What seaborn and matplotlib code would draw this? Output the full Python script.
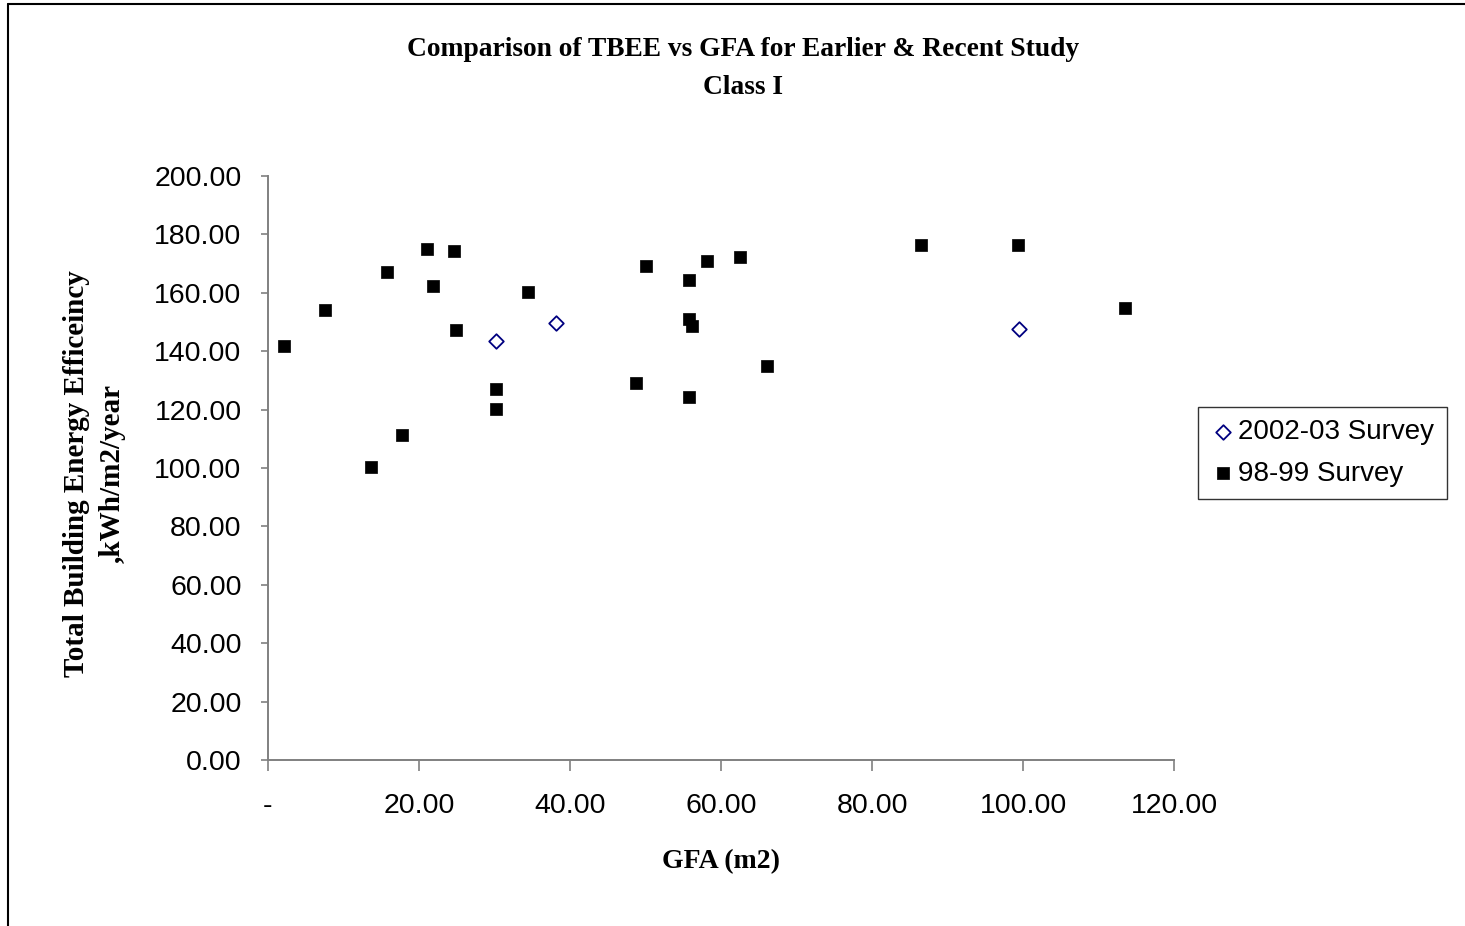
import numpy as np
import pandas as pd
import matplotlib
matplotlib.use("Agg")
import matplotlib.pyplot as plt
import seaborn as sb
from matplotlib.lines import Line2D
from matplotlib.ticker import FuncFormatter

# data
gfa_recent = [30.2, 38.2, 99.5]
tbee_recent = [143.4, 149.7, 147.5]

gfa_old = [2.1, 7.6, 13.6, 15.8, 17.7, 21.0, 21.8, 24.6, 24.9, 30.2, 30.2, 34.5,
           50.0, 48.8, 55.8, 55.8, 56.1, 55.8, 58.2, 62.5, 66.1, 86.5, 99.4, 113.5]
tbee_old = [141.8, 154.1, 100.3, 167.2, 111.3, 174.9, 162.4, 174.2, 147.3, 127.2, 120.2, 160.3,
            169.3, 129.2, 164.5, 150.9, 148.7, 124.4, 170.8, 172.1, 134.9, 176.3, 176.3, 154.8]

labels = ["2002-03 Survey", "98-99 Survey"]
y_ticks = [0, 20, 40, 60, 80, 100, 120, 140, 160, 180, 200]
x_ticks = [0, 20, 40, 60, 80, 100, 120]

recent = pd.DataFrame({"GFA": gfa_recent, "TBEE": tbee_recent})
old = pd.DataFrame({"GFA": gfa_old, "TBEE": tbee_old})

sb.set_style("white")
plt.rcParams["font.family"] = ["Liberation Sans", "DejaVu Sans"]
plt.rcParams["text.color"] = "black"
plt.rcParams["axes.labelcolor"] = "black"
plt.rcParams["xtick.color"] = "black"
plt.rcParams["ytick.color"] = "black"

W, H = 1465, 926
fig = plt.figure(figsize=(W / 100, H / 100), dpi=100)
ax = fig.add_axes([268 / W, (H - 760) / H, 906 / W, 584 / H])

sb.scatterplot(data=recent, x="GFA", y="TBEE", marker="D", s=55, color="#000080",
               linewidth=1.3, label=labels[0], ax=ax, zorder=3)
ax.collections[0].set_facecolor("white")
ax.collections[0].set_edgecolor("#000080")
sb.scatterplot(data=old, x="GFA", y="TBEE", marker="s", s=64, color="black",
               edgecolor="black", linewidth=0.5, label=labels[1], ax=ax, zorder=3)

ax.set_xlim(0, 120)
ax.set_ylim(0, 200)
ax.set_xticks(x_ticks)
ax.set_yticks(y_ticks)
ax.xaxis.set_major_formatter(FuncFormatter(lambda v, p: "-" if v == 0 else f"{v:.2f}"))
ax.yaxis.set_major_formatter(FuncFormatter(lambda v, p: f"{v:.2f}"))
ax.tick_params(axis="y", direction="out", length=5, width=1.2, color="#808080",
               labelsize=20.5, pad=14, left=True, labelcolor="black")
ax.tick_params(axis="x", direction="out", length=8, width=1.2, color="#808080",
               labelsize=20.5, pad=16, bottom=True, labelcolor="black")

for side in ["top", "right"]:
    ax.spines[side].set_visible(False)
for side in ["left", "bottom"]:
    ax.spines[side].set_color("#808080")
    ax.spines[side].set_linewidth(1.4)

serif = ["Liberation Serif", "DejaVu Serif"]
ax.set_xlabel("GFA (m2)", family=serif, weight="bold", fontsize=20)
ax.xaxis.set_label_coords(0.5, -0.152)
ax.set_ylabel("Total Building Energy Efficeincy\n,kWh/m2/year", family=serif,
              weight="bold", fontsize=21, linespacing=1.4)
ax.yaxis.set_label_coords(-0.157, 0.49)

fig.text(743 / W, 1 - 50 / H, "Comparison of TBEE vs GFA for Earlier & Recent Study",
         family=serif, weight="bold", fontsize=19.8, ha="center", va="center")
fig.text(743 / W, 1 - 87 / H, "Class I", family=serif, weight="bold", fontsize=19.8,
         ha="center", va="center")

leg = ax.legend(loc="center left", bbox_to_anchor=(1198 / W, 1 - 453 / H),
                bbox_transform=fig.transFigure, fontsize=20, frameon=True,
                fancybox=False, edgecolor="black", handletextpad=0.1,
                handlelength=0.9, borderpad=0.45, labelspacing=0.55,
                borderaxespad=0, markerscale=1.0)
leg.get_frame().set_linewidth(1.0)

# outer chart frame (only top and left visible in the original)
fig.add_artist(Line2D([8 / W, 8 / W], [0, 1 - 4 / H], transform=fig.transFigure,
                      color="black", lw=1.5))
fig.add_artist(Line2D([8 / W, 1], [1 - 4 / H, 1 - 4 / H], transform=fig.transFigure,
                      color="black", lw=1.5))

fig.savefig("out.png", dpi=100)
